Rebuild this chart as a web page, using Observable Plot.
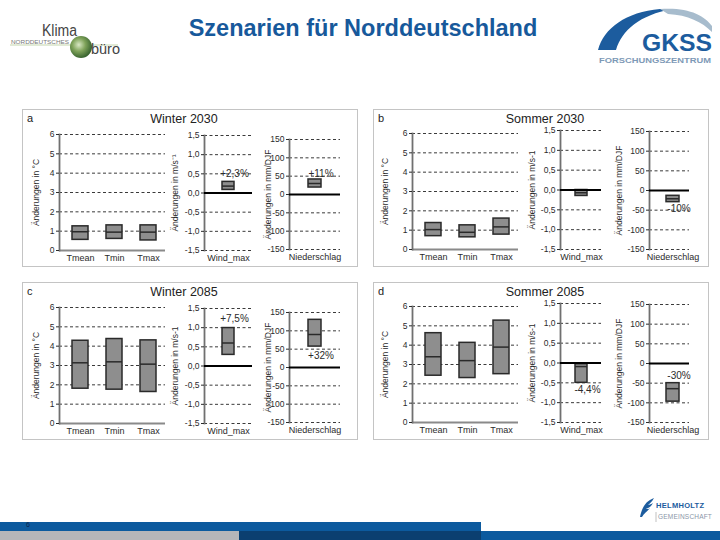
<!DOCTYPE html>
<html><head><meta charset="utf-8">
<script src="https://cdn.jsdelivr.net/npm/d3@7"></script>
<script src="https://cdn.jsdelivr.net/npm/@observablehq/plot@0.6"></script>
<style>
body{margin:0;background:#fff;}
#page{position:relative;width:720px;height:540px;overflow:hidden;font-family:"Liberation Sans",Arial,sans-serif;background:#fff;}
.abs{position:absolute;white-space:nowrap;}
.panel{position:absolute;border:1px solid #c4c4c4;box-sizing:border-box;}
</style></head><body><div id="page"></div>
<script>
// ---------------- data ----------------
const panelLetters = ["a","b","c","d"];
const panelTitles = ["Winter 2030","Sommer 2030","Winter 2085","Sommer 2085"];
const tempCats = ["Tmean","Tmin","Tmax"];
const windCats = ["Wind_max"];
const precCats = ["Niederschlag"];
// temperature change (°C): low / median / high for [Tmean, Tmin, Tmax]
const tempLow  = [[0.55,0.6,0.52],[0.69,0.63,0.77],[1.8,1.75,1.63],[2.42,2.3,2.5]];
const tempMed  = [[0.97,0.95,0.95],[1.03,0.89,1.17],[3.14,3.19,3.07],[3.4,3.2,3.9]];
const tempHigh = [[1.25,1.3,1.3],[1.37,1.25,1.6],[4.28,4.37,4.3],[4.62,4.12,5.27]];
// wind_max change (m/s)
const windLow  = [0.08,-0.15,0.29,-0.5];
const windMed  = [0.18,-0.07,0.6,-0.09];
const windHigh = [0.29,0.0,0.99,-0.03];
const windPct  = ["+2,3%","","+7,5%","-4,4%"];
const windPctAt = [0.49,null,1.22,-0.67];
// precipitation change (mm/DJF)
const precLow  = [19,-29.6,57,-97];
const precMed  = [30,-21,90,-64];
const precHigh = [41,-13.5,130,-50];
const precPct  = ["+11%","-10%","+32%","-30%"];
const precPctAt = [57,-47,33,-30];
// ticks and labels
const tempTicks = [0,1,2,3,4,5,6];
const windTicks = [-1.5,-1,-0.5,0,0.5,1,1.5];
const precTicks = [-150,-100,-50,0,50,100,150];
const tempLabel = "Änderungen in °C";
const windLabels = ["Änderungen in m/s⁻¹","Änderungen in m/s-1","Änderungen in m/s-1","Änderungen in m/s-1"];
const precLabel = "Änderungen in mm/DJF";
const mainTitle = "Szenarien für Norddeutschland";

// ---------------- layout ----------------
const page = document.getElementById("page");
function div(cls, css, text){const d=document.createElement("div");d.className=cls;Object.assign(d.style,css);if(text!=null)d.textContent=text;page.appendChild(d);return d;}

const panelPos = [{x:22,y:109},{x:373,y:109},{x:22,y:282},{x:373,y:282}];
const panelSize = {w:336,h:158};
const sideLayout = {
  left:  {temp:{ax:37,rx:143,yt:25,yb:141,lbl:23,inset:4,bw:16}, wind:{ax:182,rx:230,yt:26,yb:141,lbl:29,inset:0,bw:12}, prec:{ax:267,rx:318,yt:30,yb:140,lbl:21,inset:0,bw:13}, title:162},
  right: {temp:{ax:39,rx:145,yt:24,yb:140,lbl:27,inset:4,bw:16}, wind:{ax:187,rx:228,yt:21,yb:140,lbl:28,inset:0,bw:12}, prec:{ax:276,rx:316,yt:22,yb:140,lbl:30,inset:6,bw:13}, title:172}
};
const FONT = '"Liberation Sans", Arial, sans-serif';
const fmtWind = d => (d===0 ? "0,0" : d.toFixed(1).replace(".", ","));
const fmtInt = d => String(d);

function subplot(px, py, g, kind, cats, rows, ticks, fmt, label, yDomain, annot){
  const mL=44, mR=14, mT=12, mB=24;
  const W = g.rx - g.ax + mL + mR;
  const H = g.yb - g.yt + mT + mB;
  const step = (g.rx - g.ax - g.inset) / cats.length;
  const pi = 1 - g.bw/step;
  const marks = [];
  marks.push(Plot.ruleY(ticks.filter(t => t !== 0), {stroke:"#3a3a3a", strokeDasharray:"3,2.5", strokeWidth:1}));
  if (kind === "temp") marks.push(Plot.ruleY([0], {stroke:"#8a8a8a", strokeWidth:2}));
  marks.push(Plot.frame({anchor:"left", stroke:"#707070", strokeWidth:1.8}));
  marks.push(Plot.barY(rows, {x:"cat", y1:"lo", y2:"hi", fill:"#8e8e8e", stroke:"#2a2a2a", strokeWidth:1.5}));
  marks.push(Plot.tickY(rows, {x:"cat", y:"med", stroke:"#2a2a2a", strokeWidth:1.5}));
  if (kind !== "temp") marks.push(Plot.ruleY([0], {stroke:"#000", strokeWidth:2}));
  marks.push(Plot.axisY({ticks, tickFormat: fmt, tickSize:3, tickPadding:2, fontSize:8.5}));
  marks.push(Plot.axisX({tickSize:0, tickPadding:4, fontSize:9}));
  marks.push(Plot.text([label], {text: d => d, frameAnchor:"left", textAnchor:"middle", rotate:-90, dx:-g.lbl, fontSize:8.5}));
  if (annot && annot.length) marks.push(Plot.text(annot, {x:"cat", y:"at", text:"label", dx:6, fontSize:10}));
  const svg = Plot.plot({
    width: W, height: H, marginLeft: mL, marginRight: mR, marginTop: mT, marginBottom: mB,
    x: {type:"band", domain: cats, paddingInner: pi, paddingOuter: pi/2, insetLeft: g.inset, label: null},
    y: {domain: yDomain, label: null},
    style: {fontFamily: FONT, color:"#2b2b2b", background:"transparent", overflow:"visible"},
    marks
  });
  svg.style.position = "absolute";
  svg.style.left = (px + g.ax - mL) + "px";
  svg.style.top = (py + g.yt - mT) + "px";
  page.appendChild(svg);
}

// ---------------- header ----------------
div("abs", {left:"0px", width:"726px", top:"15px", textAlign:"center", fontSize:"23.5px", fontWeight:"bold", color:"#17599b", fontFamily:FONT}, mainTitle);

const hdr = document.createElementNS("http://www.w3.org/2000/svg","svg");
hdr.setAttribute("width","720"); hdr.setAttribute("height","100");
hdr.style.position="absolute"; hdr.style.left="0"; hdr.style.top="0";
hdr.innerHTML = `
  <defs><radialGradient id="glb" cx="40%" cy="40%" r="60%"><stop offset="0" stop-color="#d9e8c4"/><stop offset="0.5" stop-color="#7fa35a"/><stop offset="1" stop-color="#3a6530"/></radialGradient></defs>
  <text x="42" y="36" font-family="Liberation Sans" font-size="16" textLength="35" lengthAdjust="spacingAndGlyphs" fill="#444">Klima</text>
  <line x1="10" y1="45" x2="118" y2="45" stroke="#c4d6ad" stroke-width="1"/>
  <text x="11" y="44" font-family="Liberation Sans" font-size="4.5" textLength="58" lengthAdjust="spacingAndGlyphs" fill="#777">NORDDEUTSCHES</text>
  <circle cx="81" cy="47" r="11" fill="url(#glb)"/>
  <text x="91" y="54" font-family="Liberation Sans" font-size="15" textLength="29" lengthAdjust="spacingAndGlyphs" fill="#444">büro</text>
  <path d="M598,50 C604,28 626,12 660,9 L672,9 C640,15 622,30 616,50 Z" fill="#1c5c9e"/>
  <path d="M660,9 C688,7 704,15 712,26 L712,32 C702,22 688,15 668,14 Z" fill="#a7bccd"/>
  <text x="712" y="51" text-anchor="end" font-family="Liberation Sans" font-weight="bold" font-size="24" textLength="70" lengthAdjust="spacingAndGlyphs" fill="#1c5c9e">GKSS</text>
  <text x="711" y="63" text-anchor="end" font-family="Liberation Sans" font-weight="bold" font-size="8" textLength="112" lengthAdjust="spacingAndGlyphs" fill="#7d99b6">FORSCHUNGSZENTRUM</text>
`;
page.appendChild(hdr);

// ---------------- panels ----------------
panelPos.forEach((p, i) => {
  const side = (i % 2 === 0) ? sideLayout.left : sideLayout.right;
  div("panel", {left:p.x+"px", top:p.y+"px", width:panelSize.w+"px", height:panelSize.h+"px"});
  div("abs", {left:(p.x+5)+"px", top:(p.y+3)+"px", fontSize:"11px", color:"#222"}, panelLetters[i]);
  div("abs", {left:(p.x+side.title-60)+"px", width:"120px", textAlign:"center", top:(p.y+3)+"px", fontSize:"12.5px", color:"#222"}, panelTitles[i]);

  const tRows = tempCats.map((c, j) => ({cat:c, lo:tempLow[i][j], med:tempMed[i][j], hi:tempHigh[i][j]}));
  subplot(p.x, p.y, side.temp, "temp", tempCats, tRows, tempTicks, fmtInt, tempLabel, [0,6], []);

  const wRows = [{cat:windCats[0], lo:windLow[i], med:windMed[i], hi:windHigh[i]}];
  const wAnn = windPct[i] ? [{cat:windCats[0], at:windPctAt[i], label:windPct[i]}] : [];
  subplot(p.x, p.y, side.wind, "wind", windCats, wRows, windTicks, fmtWind, windLabels[i], [-1.5,1.5], wAnn);

  const pRows = [{cat:precCats[0], lo:precLow[i], med:precMed[i], hi:precHigh[i]}];
  const pAnn = [{cat:precCats[0], at:precPctAt[i], label:precPct[i]}];
  subplot(p.x, p.y, side.prec, "prec", precCats, pRows, precTicks, fmtInt, precLabel, [-150,150], pAnn);
});

// ---------------- footer ----------------
div("abs", {left:"0px", top:"522px", width:"481px", height:"9px", background:"#0c5a9e"});
div("abs", {left:"0px", top:"531px", width:"239px", height:"9px", background:"#b6b6b9"});
div("abs", {left:"239px", top:"531px", width:"242px", height:"9px", background:"#0b3f70"});
div("abs", {left:"481px", top:"531px", width:"239px", height:"9px", background:"#0c5a9e"});
div("abs", {left:"26px", top:"521px", fontSize:"7px", color:"#0a2550"}, "6");
const ftr = document.createElementNS("http://www.w3.org/2000/svg","svg");
ftr.setAttribute("width","100"); ftr.setAttribute("height","30");
ftr.style.position="absolute"; ftr.style.left="630px"; ftr.style.top="495px";
ftr.innerHTML = `
  <path d="M10,22 C12,12 16,6 24,3 C22,7 20,8 18,10 C21,9 22,9 23,8 C21,12 18,13 16,14 C18,14 19,14 20,13 C17,17 14,18 12,22 Z" fill="#1c5c9e"/>
  <text x="26" y="13" font-family="Liberation Sans" font-weight="bold" font-size="7.5" fill="#1c5c9e" letter-spacing="0.3">HELMHOLTZ</text>
  <line x1="26" y1="17" x2="26" y2="27" stroke="#999" stroke-width="0.6"/>
  <text x="28" y="24" font-family="Liberation Sans" font-size="6.5" fill="#8a96a8" letter-spacing="0.2">GEMEINSCHAFT</text>
`;
page.appendChild(ftr);
</script>
</body></html>
